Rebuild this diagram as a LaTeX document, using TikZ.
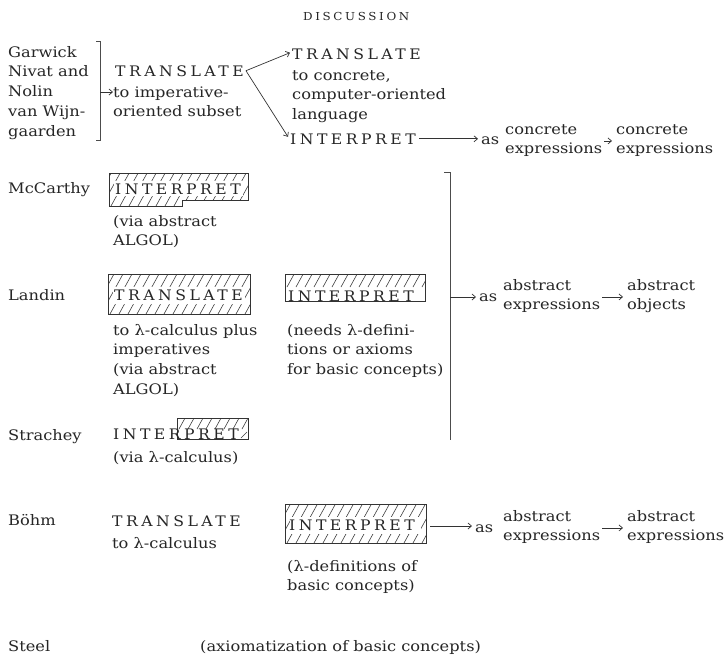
\documentclass[tikz,border=0pt]{standalone}
\usepackage{fontspec}
\setmainfont[FakeStretch=1.12]{DejaVu Serif}
\newfontfamily\capsfont[FakeStretch=1.08,LetterSpace=24]{DejaVu Serif}
\usetikzlibrary{arrows.meta,calc}
\newcommand\bodysz{\fontsize{14.5}{19.8}\selectfont}
\newcommand\capsz{\capsfont\fontsize{14.5}{18}\selectfont}
\newcommand\ml[1]{\begin{tabular}[t]{@{}l@{}}#1\end{tabular}}
\newcommand\hatchlines[4]{%
  \foreach \k in {0,...,22}{\draw[hatch] ({#1-25+9*\k},#4) -- ++({0.55*(#4-#2)},{-(#4-#2)});}}
\tikzset{
  txt/.style={anchor=base west, inner sep=0pt, font=\bodysz, text=black!85},
  caps/.style={anchor=base west, inner sep=0pt, font=\capsz, text=black!85},
  hatch/.style={line width=0.6pt, draw=black!75},
  boxline/.style={line width=0.8pt, draw=black!80},
  arr/.style={line width=0.7pt, draw=black!80, -{Straight Barb[length=3.5pt,width=6pt]}},
  brk/.style={line width=0.8pt, draw=black!70}
}
\begin{document}
\begin{tikzpicture}[x=1pt,y=-1pt]
\useasboundingbox[fill=white] (0,0) rectangle (725,662);

% title
\node[anchor=base west, inner sep=0pt, font=\capsfont\fontsize{11}{13}\selectfont, text=black!85] (dis) at (303,20) {DISCUSSION};

% ---------- first group ----------
\node[txt] (names1) at (8,57) {\ml{Garwick\\Nivat and\\Nolin\\van Wijn-\\gaarden}};
\coordinate (bt) at (100,41);
\coordinate (bb) at (100,140);
\draw[brk] ($(bt)+(-4,0)$) -- (bt) -- (bb) -- ($(bb)+(-4,0)$);
\node[caps] (tr1) at (115,76) {TRANSLATE};
\node[txt] (tr1sub) at (113,97) {\ml{to imperative-\\oriented subset}};
\coordinate (b1) at (100,92);
\draw[arr] (b1) -- (b1 -| tr1sub.west);

\node[caps] (tr2) at (292,59) {TRANSLATE};
\node[txt] (tr2sub) at (292,80) {\ml{to concrete,\\computer-oriented\\language}};
\node[caps] (int1) at (290,144) {INTERPRET};
\draw[arr] ([xshift=2pt]tr1.east) -- ([xshift=-2pt,yshift=1pt]tr2.west);
\draw[arr] ([xshift=2pt]tr1.east) -- ([xshift=-2pt,yshift=2pt]int1.west);
\node[txt] (as1) at (481,144) {as};
\node[txt] (ce1) at (505,134) {\ml{concrete\\expressions}};
\coordinate (i1e) at ($(int1.east)+(3,0)$);
\draw[arr] (i1e) -- ($(i1e -| as1.west)+(-3,0)$);
\node[txt] (ce2) at (616,134) {\ml{concrete\\expressions}};
\coordinate (c1e) at ($(ce1.east)+(2,1)$);
\draw[arr] (c1e) -- ($(c1e -| ce2.west)+(-4,0)$);

% ---------- McCarthy ----------
\node[txt] (mcc) at (8,193) {McCarthy};
\begin{scope}
  \clip (109,173) -- (248,173) -- (248,200) -- (182,200) -- (182,206) -- (109,206) -- cycle;
  \hatchlines{109}{173}{248}{206}
  \fill[white] (114,181) rectangle (243,196);
\end{scope}
\draw[boxline] (109,173) -- (248,173) -- (248,200) -- (182,200) -- (182,206) -- (109,206) -- cycle;
\node[caps] (mccint) at (115,194) {INTERPRET};
\node[txt] (mccvia) at (113,226) {\ml{(via abstract\\ALGOL)}};

% ---------- Landin ----------
\node[txt] (landin) at (8,300) {Landin};
\begin{scope}
  \clip (108,274) rectangle (250,314);
  \hatchlines{108}{274}{250}{314}
  \fill[white] (113,287) rectangle (245,304);
\end{scope}
\draw[boxline] (108,274) rectangle (250,314);
\node[caps] (lantr) at (114,300) {TRANSLATE};
\node[txt] (lansub) at (113,335) {\ml{to λ-calculus plus\\imperatives\\(via abstract\\ALGOL)}};

\begin{scope}
  \clip (285,274) rectangle (425,287);
  \hatchlines{285}{274}{425}{287}
\end{scope}
\draw[boxline] (285,274) rectangle (425,301);
\node[caps] (lanint) at (288,301) {INTERPRET};
\node[txt] (lanneeds) at (287,335) {\ml{(needs λ-defini-\\tions or axioms\\for basic concepts)}};

% big bracket
\coordinate (Bt) at (450,172);
\coordinate (Bb) at (450,440);
\draw[brk] ($(Bt)+(-6,0)$) -- (Bt) -- (Bb);
\coordinate (B1) at (450,297);
\node[txt] (as2) at (479,301) {as};
\node[txt] (ae2) at (503,290) {\ml{abstract\\expressions}};
\node[txt] (ao2) at (627,290) {\ml{abstract\\objects}};
\draw[arr] (B1) -- ($(B1 -| as2.west)+(-3,0)$);
\coordinate (a2e) at ($(ae2.east)+(2,1)$);
\draw[arr] (a2e) -- ($(a2e -| ao2.west)+(-4,0)$);

% ---------- Strachey ----------
\node[txt] (strachey) at (8,440) {Strachey};
\begin{scope}
  \clip (177,418) rectangle (248,439);
  \hatchlines{177}{418}{248}{429}
  \draw[hatch] (241,438) -- (247,432);
\end{scope}
\draw[boxline] (177,418) rectangle (248,439);
\node[caps] (strint) at (113,439) {INTERPRET};
\node[txt] (strvia) at (113,462) {(via λ-calculus)};

% ---------- Böhm ----------
\node[txt] (bohm) at (8,525) {Böhm};
\node[caps] (bohmtr) at (112,526) {TRANSLATE};
\node[txt] (bohmsub) at (112,548) {to λ-calculus};
\begin{scope}
  \clip (285,504) rectangle (426,543);
  \hatchlines{285}{504}{426}{543}
  \fill[white] (290,517) rectangle (421,534);
\end{scope}
\draw[boxline] (285,504) rectangle (426,543);
\node[caps] (bohmint) at (289,530) {INTERPRET};
\node[txt] (bohmdef) at (287,571) {\ml{(λ-definitions of\\basic concepts)}};
\node[txt] (as3) at (475,532) {as};
\node[txt] (ae3) at (503,521) {\ml{abstract\\expressions}};
\node[txt] (ae3b) at (627,521) {\ml{abstract\\expressions}};
\coordinate (r3) at (430,526);
\draw[arr] (r3) -- ($(r3 -| as3.west)+(-3,0)$);
\coordinate (a3e) at ($(ae3.east)+(2,1)$);
\draw[arr] (a3e) -- ($(a3e -| ae3b.west)+(-4,0)$);

% ---------- Steel ----------
\node[txt] (steel) at (8,651) {Steel};
\node[txt] (steelax) at (200,651) {(axiomatization of basic concepts)};
\end{tikzpicture}
\end{document}
